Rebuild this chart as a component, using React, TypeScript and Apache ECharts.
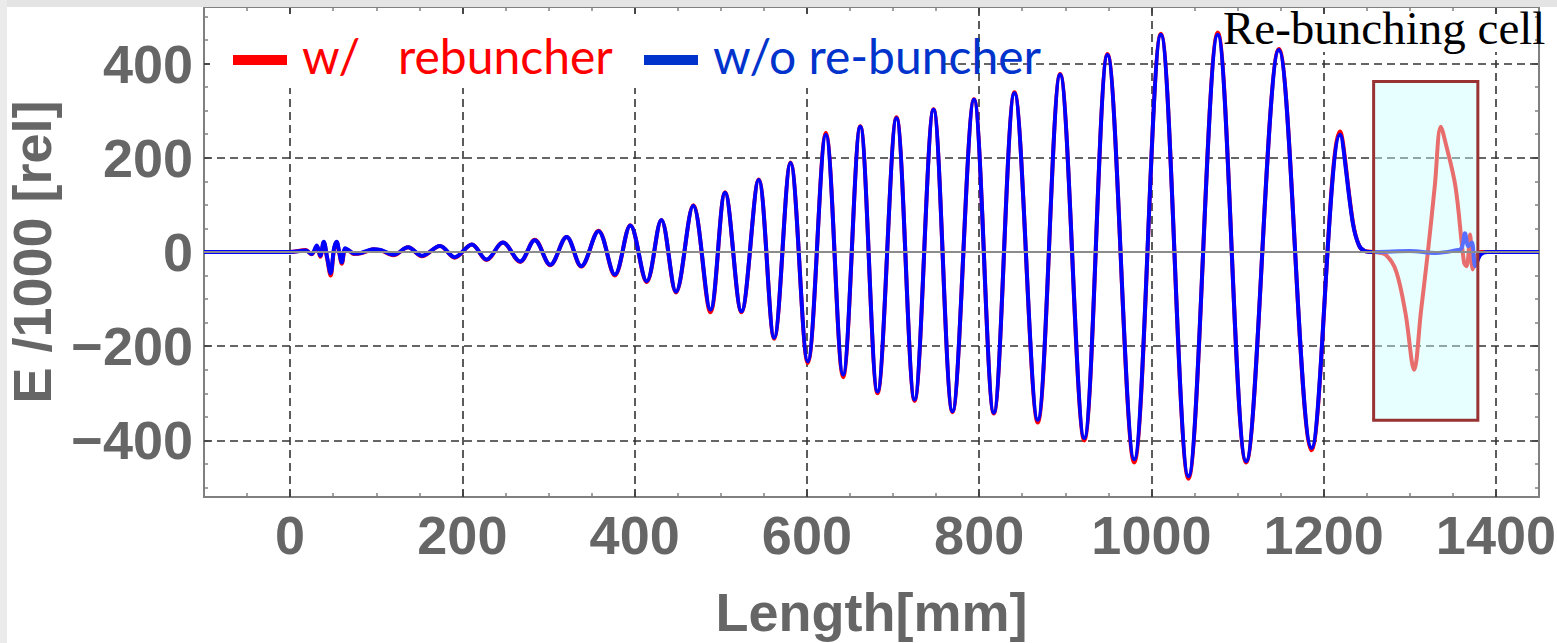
import React, { useEffect, useRef } from 'react';
import * as echarts from 'echarts';

const xMajorTicks = [0, 200, 400, 600, 800, 1000, 1200, 1400];
const xMinorTicks = [-100, -50, 0, 50, 100, 150, 200, 250, 300, 350, 400, 450, 500, 550, 600, 650, 700, 750, 800, 850, 900, 950, 1000, 1050, 1100, 1150, 1200, 1250, 1300, 1350, 1400, 1450];
const yMajorTicks = [-400, -200, 0, 200, 400];
const yMinorTicks = [-500, -450, -400, -350, -300, -250, -200, -150, -100, -50, 0, 50, 100, 150, 200, 250, 300, 350, 400, 450, 500];
const yGridLines = [-400, -200, 200, 400];

const blueLength = [
  -100, 0, 18, 25, 31, 35, 39, 43, 47, 51,
  54, 57, 60, 64, 68, 74, 82, 90, 97, 106,
  120, 137, 153, 174, 191, 211, 228, 247, 267, 284,
  302, 321, 338, 358, 377, 395, 414, 431, 448, 468,
  488, 505, 524, 544, 562, 581, 601, 622, 642, 662,
  682, 704, 725, 747, 769, 794, 817, 841, 868, 894,
  922, 949, 980, 1011, 1043, 1077, 1110, 1148, 1186, 1219,
  1234, 1241, 1248, 1260, 1300, 1330, 1352, 1360, 1364, 1368,
  1372, 1376, 1382, 1390, 1450,
];
const blueE = [
  0, 0, 3, -4, 14, -8, 22, -12, -45, 8,
  22, 0, -22, 8, 4, -3, -2, 3, 6, 4,
  -6, 10, -8, 13, -11, 16, -16, 20, -20, 25,
  -27, 32, -30, 44, -48, 56, -62, 68, -84, 98,
  -122, 126, -126, 153, -182, 189, -232, 249, -260, 266,
  -296, 284, -313, 302, -338, 323, -341, 337, -356, 376,
  -395, 418, -440, 461, -476, 461, -444, 429, -416, 249,
  60, 14, 2, 0, 2, -2, 3, 8, 40, 12,
  20, -30, -6, 0, 0,
];

const redLength = [
  -100, 0, 18, 25, 31, 35, 39, 43, 47, 51,
  54, 57, 60, 64, 68, 74, 82, 90, 97, 106,
  120, 137, 153, 174, 191, 211, 228, 247, 267, 284,
  302, 321, 338, 358, 377, 395, 414, 431, 448, 468,
  488, 505, 524, 544, 562, 581, 601, 622, 642, 662,
  682, 704, 725, 747, 769, 794, 817, 841, 868, 894,
  922, 949, 980, 1011, 1043, 1077, 1110, 1148, 1186, 1219,
  1234, 1241, 1248, 1260, 1272, 1284, 1295, 1305, 1313, 1321,
  1329, 1336, 1342, 1353, 1363, 1366, 1370, 1373, 1377, 1383, 1450,
];
const redE = [
  0, 0, 4, -5, 12, -10, 20, -14, -50, 6,
  20, -2, -25, 6, 3, -4, -3, 2, 6, 3,
  -7, 10, -9, 13, -12, 16, -17, 20, -21, 26,
  -28, 32, -31, 45, -50, 57, -64, 68, -86, 99,
  -128, 127, -128, 154, -184, 190, -236, 253, -266, 267,
  -300, 286, -316, 303, -340, 324, -343, 339, -362, 378,
  -400, 420, -447, 463, -481, 466, -447, 431, -421, 256,
  62, 14, 2, 0, -6, -40, -130, -250, -125, 0,
  140, 266, 228, 139, -23, -30, 37, -37, -10, 0, 0,
];

const cellLength = [1258, 1379];
const cellE = [-357, 362];

const zip = (xs: number[], ys: number[]) => xs.map((x, i) => [x, ys[i]]);

const LABEL_FONT = '"Liberation Sans", Arial, Helvetica, sans-serif';
const GRAY_TEXT = '#666666';
const FRAME = '#808080';

function xAxisDef(position: string, ticks: number[], len: number, extra: any = {}) {
  return {
    type: 'value',
    min: -100,
    max: 1450,
    position,
    axisLine: { show: false, onZero: false },
    splitLine: { show: false },
    axisLabel: { show: false },
    axisTick: { show: true, inside: true, length: len, customValues: ticks, lineStyle: { color: FRAME, width: 1.5 } },
    ...extra,
  };
}
function yAxisDef(position: string, ticks: number[], len: number, extra: any = {}) {
  return {
    type: 'value',
    min: -520,
    max: 520,
    position,
    axisLine: { show: false, onZero: false },
    splitLine: { show: false },
    axisLabel: { show: false },
    axisTick: { show: true, inside: true, length: len, customValues: ticks, lineStyle: { color: FRAME, width: 1.5 } },
    ...extra,
  };
}

export default function App() {
  const ref = useRef<HTMLDivElement>(null);
  useEffect(() => {
    if (!ref.current) return;
    const chart = echarts.init(ref.current, undefined, { renderer: 'svg' });
    const labelStyle = {
      show: true,
      fontSize: 54,
      fontWeight: 'bold',
      fontFamily: LABEL_FONT,
      color: GRAY_TEXT,
    };
    const option: any = {
      animation: false,
      grid: {
        left: 204,
        top: 7,
        width: 1335,
        height: 490,
        show: true,
        containLabel: false,
        outerBoundsMode: 'none',
        borderColor: FRAME,
        borderWidth: 2,
        backgroundColor: 'transparent',
      },
      xAxis: [
        xAxisDef('bottom', xMajorTicks, 7, {
          axisLabel: { ...labelStyle, customValues: xMajorTicks, margin: 11, formatter: (v: number) => String(v) },
          name: 'Length[mm]',
          nameLocation: 'middle',
          nameGap: 88,
          nameTextStyle: { fontSize: 54, fontWeight: 'bold', fontFamily: LABEL_FONT, color: GRAY_TEXT },
        }),
        xAxisDef('bottom', xMinorTicks, 4),
        xAxisDef('top', xMajorTicks, 7),
        xAxisDef('top', xMinorTicks, 4),
      ],
      yAxis: [
        yAxisDef('left', yMajorTicks, 7, {
          axisLabel: {
            ...labelStyle,
            customValues: yMajorTicks,
            margin: 11,
            formatter: (v: number) => String(v).replace('-', '\u2212'),
          },
          name: 'E /1000 [rel]',
          nameLocation: 'middle',
          nameGap: 145,
          nameTextStyle: { fontSize: 54, fontWeight: 'bold', fontFamily: LABEL_FONT, color: GRAY_TEXT },
        }),
        yAxisDef('left', yMinorTicks, 4),
        yAxisDef('right', yMajorTicks, 7),
        yAxisDef('right', yMinorTicks, 4),
      ],
      series: [
        {
          name: 'grid',
          type: 'line',
          data: [[-100, 0]],
          symbol: 'none',
          lineStyle: { opacity: 0 },
          silent: true,
          z: 1,
          markLine: {
            z: 1,
            silent: true,
            symbol: ['none', 'none'],
            label: { show: false },
            lineStyle: { type: [8, 5], color: '#333333', width: 1.6 },
            emphasis: { disabled: true },
            data: [
              ...xMajorTicks.map((v) => ({ xAxis: v })),
              ...yGridLines.map((v) => ({ yAxis: v })),
            ],
          },
        },
        {
          name: 'w/ rebuncher',
          type: 'line',
          data: zip(redLength, redE),
          symbol: 'none',
          smooth: 0.35,
          z: 3,
          lineStyle: { color: '#ff0000', width: 4 },
        },
        {
          name: 'w/o re-buncher',
          type: 'line',
          data: zip(blueLength, blueE),
          symbol: 'none',
          smooth: 0.35,
          z: 4,
          lineStyle: { color: '#0000ff', width: 4 },
        },
        {
          name: 'overlay',
          type: 'line',
          data: [[-100, 0]],
          symbol: 'none',
          lineStyle: { opacity: 0 },
          silent: true,
          z: 10,
          markArea: {
            z: 10,
            silent: true,
            itemStyle: { color: 'rgba(201,255,255,0.43)', borderColor: '#993333', borderWidth: 3 },
            emphasis: { disabled: true },
            data: [[
              { xAxis: cellLength[0], yAxis: cellE[1] },
              { xAxis: cellLength[1], yAxis: cellE[0] },
            ]],
          },
          markLine: {
            z: 11,
            silent: true,
            symbol: ['none', 'none'],
            label: { show: false },
            lineStyle: { type: 'solid', color: '#8c8c8c', width: 2 },
            emphasis: { disabled: true },
            data: [{ yAxis: 0 }],
          },
        },
      ],
      graphic: [
        { type: 'rect', z: 0, shape: { x: 0, y: 0, width: 1557, height: 7 }, style: { fill: '#e4e4e4' } },
        { type: 'rect', z: 0, shape: { x: 0, y: 0, width: 7, height: 643 }, style: { fill: '#ebebeb' } },
        { type: 'rect', z: 2, shape: { x: 210, y: 14, width: 730, height: 74 }, style: { fill: '#ffffff' } },
        { type: 'rect', z: 2, shape: { x: 1222, y: 14, width: 310, height: 38 }, style: { fill: '#ffffff' } },
        { type: 'rect', z: 20, shape: { x: 233, y: 55, width: 54, height: 10 }, style: { fill: '#ff0000' } },
        { type: 'text', z: 20, x: 302, y: 55, style: { text: 'w/', fill: '#ff0000', font: '48px Lato, "Open Sans", sans-serif', textVerticalAlign: 'middle' } },
        { type: 'text', z: 20, x: 398, y: 55, style: { text: 'rebuncher', fill: '#ff0000', font: '48px Lato, "Open Sans", sans-serif', textVerticalAlign: 'middle' } },
        { type: 'rect', z: 20, shape: { x: 644, y: 55, width: 54, height: 10 }, style: { fill: '#0033cc' } },
        { type: 'text', z: 20, x: 713, y: 55, style: { text: 'w/o re-buncher', fill: '#0033cc', font: '48px Lato, "Open Sans", sans-serif', textVerticalAlign: 'middle' } },
        { type: 'text', z: 20, x: 1223, y: 28, style: { text: 'Re-bunching cell', fill: '#000000', font: '47px "Liberation Serif", "Times New Roman", serif', textVerticalAlign: 'middle' } },
      ],
    };
    chart.setOption(option);
    return () => chart.dispose();
  }, []);
  return (
    <div
      ref={ref}
      style={{ position: 'fixed', left: 0, top: 0, width: 1557, height: 643, background: '#ffffff' }}
    />
  );
}
